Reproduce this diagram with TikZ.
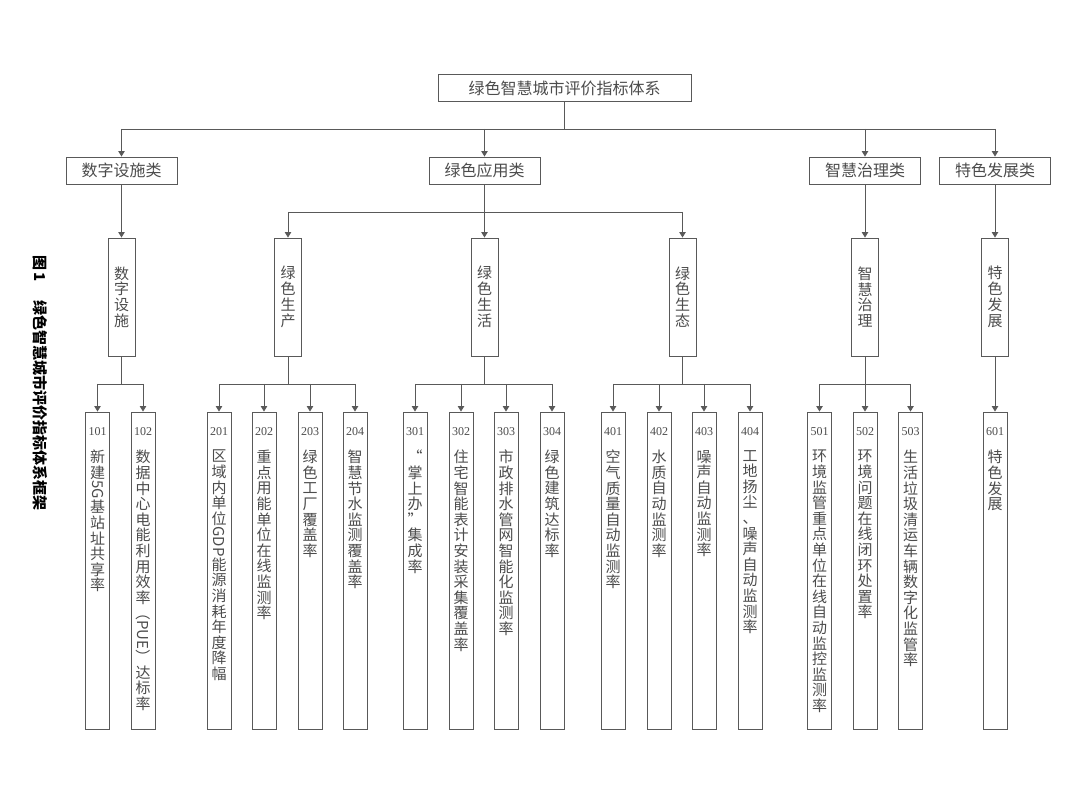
\documentclass[tikz,border=0pt]{standalone}
\usepackage{fontspec}
\setmainfont{Liberation Serif}
\newfontfamily\cjk{Noto Sans CJK SC}
\usetikzlibrary{arrows.meta}
\definecolor{ln}{gray}{0.35}
\definecolor{tx}{gray}{0.3}
\newcommand\vrot[1]{\rotatebox[origin=c]{-90}{#1}}
\begin{document}
\begin{tikzpicture}[x=1pt,y=-1pt,
 box/.style={draw=ln,line width=0.9pt,inner sep=0pt,fill=white},
 hbox/.style={box,minimum width=111pt,minimum height=27pt,font=\cjk\fontsize{16}{16}\selectfont,text=tx},
 vbox/.style={box,minimum width=27pt,minimum height=118pt,align=center,text=tx,font=\cjk\fontsize{15}{15.8}\selectfont},
 ibox/.style={box,minimum width=24pt,minimum height=317pt},
 vtext/.style={inner sep=0pt,align=center,text=tx,font=\cjk\fontsize{15}{15.6}\selectfont,anchor=north},
 num/.style={inner sep=0pt,text=tx,font=\fontsize{12}{12}\selectfont},
 conn/.style={draw=ln,line width=0.9pt},
 arr/.style={conn,-{Triangle[length=5.5pt,width=6.5pt]}}]
\useasboundingbox (0,0) rectangle (1080,786);

% caption
\node[anchor=west,rotate=-90,inner sep=0pt,font=\cjk\bfseries\fontsize{15}{15}\selectfont] (cap) at (40,255) {图\,1\quad\ 绿色智慧城市评价指标体系框架};

% level 1 and 2
\node[hbox,minimum width=253pt] (root) at (564.5,88) {绿色智慧城市评价指标体系};
\node[hbox] (c1) at (121.5,170.5) {数字设施类};
\node[hbox] (c2) at (484.5,170.5) {绿色应用类};
\node[hbox] (c3) at (865,170.5) {智慧治理类};
\node[hbox] (c4) at (995,170.5) {特色发展类};

% level 3
\node[vbox] (s1) at (121.5,297) {数\\字\\设\\施};
\node[vbox] (s2) at (288,297) {绿\\色\\生\\产};
\node[vbox] (s3) at (484.5,297) {绿\\色\\生\\活};
\node[vbox] (s4) at (682.5,297) {绿\\色\\生\\态};
\node[vbox] (s5) at (865,297) {智\\慧\\治\\理};
\node[vbox] (s6) at (995,297) {特\\色\\发\\展};

% bus coordinates
\coordinate (b0) at (0,129);
\coordinate (b1) at (0,212);
\coordinate (b2) at (0,384);

% connectors level 1-2
\draw[conn] (root.south) -- (root.south |- b0);
\draw[conn] (c1.north |- b0) -- (c4.north |- b0);
\foreach \c in {c1,c2,c3,c4} \draw[arr] (\c.north |- b0) -- (\c.north);
% level 2-3
\draw[arr] (c1.south) -- (s1.north);
\draw[arr] (c2.south) -- (s3.north);
\draw[arr] (c3.south) -- (s5.north);
\draw[arr] (c4.south) -- (s6.north);
\draw[conn] (s2.north |- b1) -- (s4.north |- b1);
\draw[arr] (s2.north |- b1) -- (s2.north);
\draw[arr] (s4.north |- b1) -- (s4.north);

% level 4 boxes
\foreach \n/\x in {101/97.5,102/143,201/219,202/264,203/310,204/355,301/415,302/461,303/506,304/552,401/613,402/659,403/704,404/750,501/819.5,502/865,503/910.5,601/995}{
  \node[ibox] (i\n) at (\x,570.5) {};
  \node[num] (n\n) at (\x,432) {\n};
}

% level 3-4 connectors
\foreach \s/\a/\b in {s1/i101/i102,s2/i201/i204,s3/i301/i304,s4/i401/i404,s5/i501/i503}{
  \draw[conn] (\s.south) -- (\s.south |- b2);
  \draw[conn] (\a.north |- b2) -- (\b.north |- b2);
}
\foreach \t in {i101,i102,i201,i202,i203,i204,i301,i302,i303,i304,i401,i402,i403,i404,i501,i502,i503}
  \draw[arr] (\t.north |- b2) -- (\t.north);
\draw[arr] (s6.south) -- (i601.north);

% level 4 texts
\node[vtext] (t101) at (97.5,450) {新\\建\\\vrot{5G}\\基\\站\\址\\共\\享\\率};
\node[vtext] (t102) at (143,450) {数\\据\\中\\心\\电\\能\\利\\用\\效\\率\\\vrot{（PUE）}\\达\\标\\率};
\node[vtext] (t201) at (219,450) {区\\域\\内\\单\\位\\\vrot{GDP}\\能\\源\\消\\耗\\年\\度\\降\\幅};
\node[vtext] (t202) at (264,450) {重\\点\\用\\能\\单\\位\\在\\线\\监\\测\\率};
\node[vtext] (t203) at (310,450) {绿\\色\\工\\厂\\覆\\盖\\率};
\node[vtext] (t204) at (355,450) {智\\慧\\节\\水\\监\\测\\覆\\盖\\率};
\node[vtext] (t301) at (415,450) {“\\掌\\上\\办\\”\\集\\成\\率};
\node[vtext] (t302) at (461,450) {住\\宅\\智\\能\\表\\计\\安\\装\\采\\集\\覆\\盖\\率};
\node[vtext] (t303) at (506,450) {市\\政\\排\\水\\管\\网\\智\\能\\化\\监\\测\\率};
\node[vtext] (t304) at (552,450) {绿\\色\\建\\筑\\达\\标\\率};
\node[vtext] (t401) at (613,450) {空\\气\\质\\量\\自\\动\\监\\测\\率};
\node[vtext] (t402) at (659,450) {水\\质\\自\\动\\监\\测\\率};
\node[vtext] (t403) at (704,450) {噪\\声\\自\\动\\监\\测\\率};
\node[vtext] (t404) at (750,450) {工\\地\\扬\\尘\\、\\噪\\声\\自\\动\\监\\测\\率};
\node[vtext] (t501) at (819.5,450) {环\\境\\监\\管\\重\\点\\单\\位\\在\\线\\自\\动\\监\\控\\监\\测\\率};
\node[vtext] (t502) at (865,450) {环\\境\\问\\题\\在\\线\\闭\\环\\处\\置\\率};
\node[vtext] (t503) at (910.5,450) {生\\活\\垃\\圾\\清\\运\\车\\辆\\数\\字\\化\\监\\管\\率};
\node[vtext] (t601) at (995,450) {特\\色\\发\\展};
\end{tikzpicture}
\end{document}
